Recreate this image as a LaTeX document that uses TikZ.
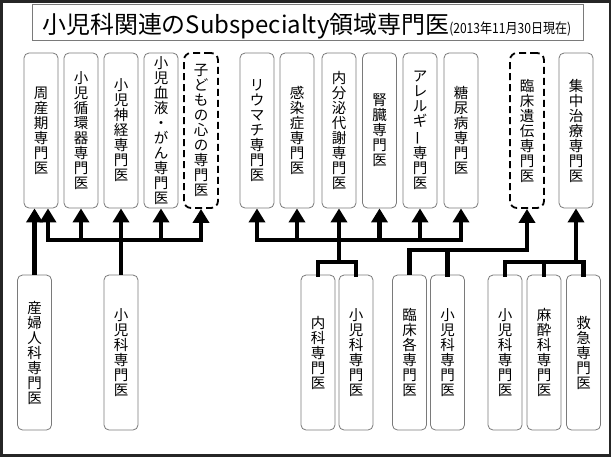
\documentclass[tikz,border=0pt]{standalone}
\usepackage{fontspec}
\usepackage{graphicx}
\newfontfamily\jp{Noto Sans CJK JP}
\usetikzlibrary{arrows.meta}
\definecolor{boxgray}{HTML}{7A7A7A}
\newcommand{\vbar}{\rotatebox[origin=c]{90}{ー}}
\begin{document}
\begin{tikzpicture}[x=1pt,y=-1pt,
  box/.style={draw=boxgray, line width=0.8pt, rounded corners=5pt, fill=white,
    minimum width=34pt, minimum height=155pt, inner sep=0pt, align=center,
    font=\jp\fontsize{14.5}{15}\selectfont},
  dbox/.style={box, draw=black, line width=1.8pt, dash pattern=on 7pt off 4pt, rounded corners=7pt},
  conn/.style={line width=4.5pt, black, line cap=rect},
  arr/.style={line width=4.5pt, black, -{Triangle[width=16pt,length=14pt]}},
  frame/.style={draw=black!85, line width=2.6pt},
  titlebox/.style={draw=boxgray, line width=1.2pt}]
\useasboundingbox (0,0) rectangle (613,459);
\draw[frame] (1.3,1.3) rectangle (610,455.5);
\draw[titlebox] (32.5,4.5) rectangle (583.5,40.5);
\node[anchor=base west, inner sep=0pt, font=\jp] (title) at (42,33)
  {\resizebox{407pt}{!}{小児科関連のSubspecialty領域専門医}\resizebox{122pt}{\height}{\fontsize{14}{15}\selectfont (2013年11月30日現在)}};
% top row
\node[box] (n1) at (41,130.5) {周\\産\\期\\専\\門\\医};
\node[box] (n2) at (81,130.5) {小\\児\\循\\環\\器\\専\\門\\医};
\node[box] (n3) at (121,130.5) {小\\児\\神\\経\\専\\門\\医};
\node[box] (n4) at (161,130.5) {小\\児\\血\\液\\・\\が\\ん\\専\\門\\医};
\node[dbox] (n5) at (201,130.5) {子\\ど\\も\\の\\心\\の\\専\\門\\医};
\node[box] (n6) at (257,130.5) {リ\\ウ\\マ\\チ\\専\\門\\医};
\node[box] (n7) at (297,130.5) {感\\染\\症\\専\\門\\医};
\node[box] (n8) at (339,130.5) {内\\分\\泌\\代\\謝\\専\\門\\医};
\node[box] (n9) at (379.5,130.5) {腎\\臓\\専\\門\\医};
\node[box] (n10) at (420,130.5) {ア\\レ\\ル\\ギ\\\vbar\\専\\門\\医};
\node[box] (n11) at (461,130.5) {糖\\尿\\病\\専\\門\\医};
\node[dbox] (n12) at (527,130.5) {臨\\床\\遺\\伝\\専\\門\\医};
\node[box] (n13) at (576,130.5) {集\\中\\治\\療\\専\\門\\医};
% bottom row
\node[box] (A) at (34.5,352.5) {産\\婦\\人\\科\\専\\門\\医};
\node[box] (B) at (121,352.5) {小\\児\\科\\専\\門\\医};
\node[box] (C) at (318,352.5) {内\\科\\専\\門\\医};
\node[box] (C2) at (356,352.5) {小\\児\\科\\専\\門\\医};
\node[box] (D) at (409.5,352.5) {臨\\床\\各\\専\\門\\医};
\node[box] (E) at (447.5,352.5) {小\\児\\科\\専\\門\\医};
\node[box] (F) at (505,352.5) {小\\児\\科\\専\\門\\医};
\node[box] (G) at (544,352.5) {麻\\酔\\科\\専\\門\\医};
\node[box] (H) at (583.5,352.5) {救\\急\\専\\門\\医};
% junction levels
\coordinate (yb) at (0,240);
\coordinate (yc) at (0,250);
\coordinate (yf) at (0,262);
% left group
\draw[conn] ([xshift=7pt]n1.south |- yb) -- (n5.south |- yb);
\draw[arr] ([xshift=7pt]n1.south |- yb) -- ([xshift=7pt]n1.south);
\draw[arr] (n2.south |- yb) -- (n2.south);
\draw[arr] (n4.south |- yb) -- (n4.south);
\draw[arr] (n5.south |- yb) -- (n5.south);
\draw[arr] (B.north) -- (n3.south);
\draw[arr] (A.north) -- (A.north |- n1.south);
% middle group
\draw[conn] (n6.south |- yb) -- (n11.south |- yb);
\draw[arr] (n6.south |- yb) -- (n6.south);
\draw[arr] (n7.south |- yb) -- (n7.south);
\draw[arr] (n9.south |- yb) -- (n9.south);
\draw[arr] (n10.south |- yb) -- (n10.south);
\draw[arr] (n11.south |- yb) -- (n11.south);
\draw[conn] (C.north) -- (C.north |- yf) -- (C2.north |- yf) -- (C2.north);
\draw[arr] (n8.south |- yf) -- (n8.south);
% clinical genetics
\draw[arr] (D.north) -- (D.north |- yc) -- (n12.south |- yc) -- (n12.south);
\draw[conn] (E.north) -- (E.north |- yc);
% intensive care
\draw[conn] (F.north) -- (F.north |- yf) -- (H.north |- yf) -- (H.north);
\draw[conn] (G.north) -- (G.north |- yf);
\draw[arr] (n13.south |- yf) -- (n13.south);
\end{tikzpicture}
\end{document}
